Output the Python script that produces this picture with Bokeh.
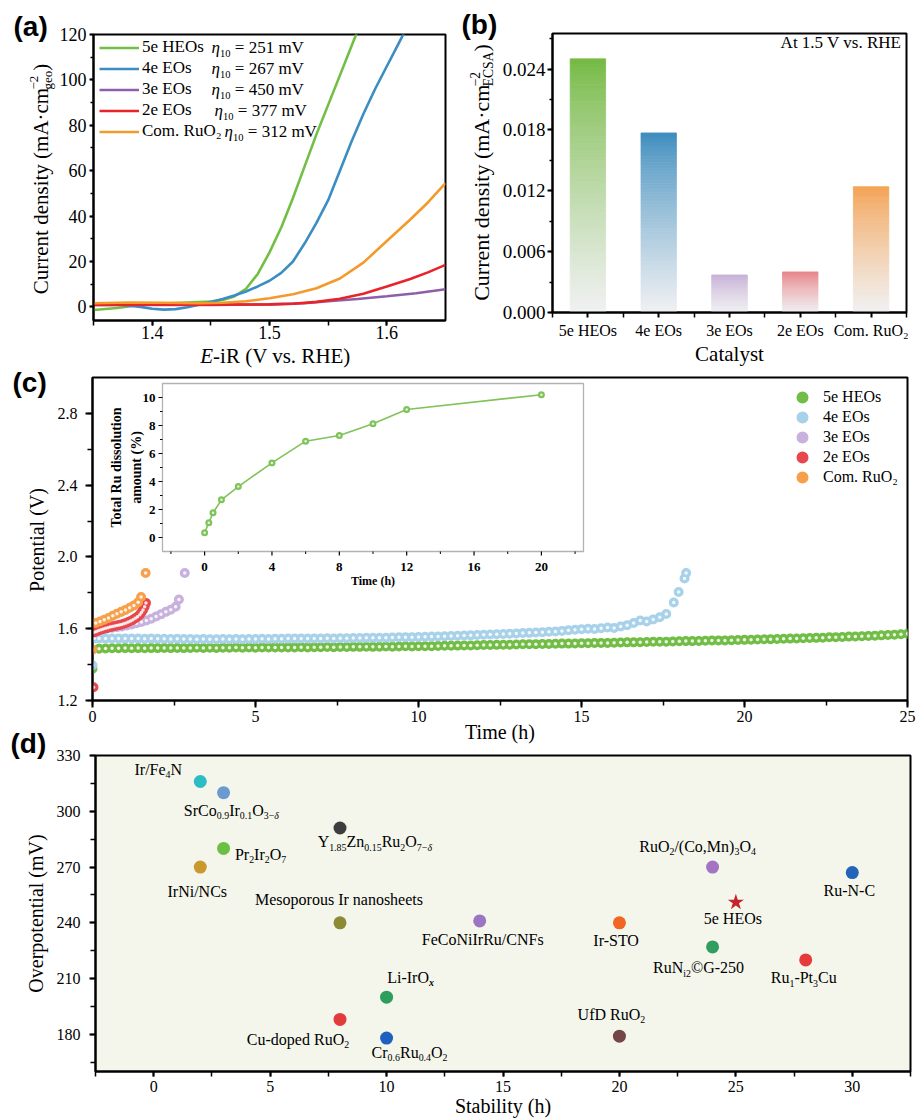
import math
from bokeh.plotting import figure
from bokeh.models import (Range1d, Label, LabelSet, Legend, LegendItem, BoxAnnotation,
                          SingleIntervalTicker, FixedTicker, ColumnDataSource, PrintfTickFormatter)
from bokeh.core.properties import value
from bokeh.layouts import column, row
from bokeh.embed import file_html
from bokeh.resources import INLINE

SERIF = "Liberation Serif"
AXF = "Times New Roman"   # axis texts (metric alias of Liberation Serif)
SANS = "Liberation Sans"

# ======================= DATA =======================
# (a) LSV curves: potential (V) and current density (mA cm-2)
lsv_names = ["5e HEOs", "4e EOs", "3e EOs", "2e EOs", "Com. RuO₂"]
lsv_eta10 = ["251", "267", "450", "377", "312"]
lsv_v_5e = [1.35, 1.37, 1.39, 1.41, 1.43, 1.45, 1.46, 1.47, 1.48, 1.49, 1.50, 1.51, 1.52, 1.53, 1.54, 1.55, 1.56, 1.57, 1.58]
lsv_j_5e = [-1.4, -0.5, 0.8, 1.5, 1.9, 2.3, 3.0, 4.6, 8.0, 14.5, 24.0, 35.0, 48.0, 62.0, 76.0, 89.0, 102.0, 115.0, 128.0]
lsv_v_4e = [1.35, 1.37, 1.39, 1.40, 1.41, 1.42, 1.43, 1.44, 1.45, 1.46, 1.47, 1.48, 1.49, 1.50, 1.51, 1.52, 1.53, 1.54, 1.55, 1.56, 1.57, 1.58, 1.59, 1.60, 1.61, 1.62]
lsv_j_4e = [1.6, 1.2, 0.0, -0.8, -1.2, -1.0, -0.2, 1.0, 2.2, 3.5, 5.0, 6.8, 9.0, 11.5, 15.0, 20.0, 28.0, 37.0, 47.0, 60.0, 73.0, 85.0, 96.0, 106.0, 116.0, 126.0]
lsv_v_3e = [1.35, 1.40, 1.45, 1.50, 1.53, 1.55, 1.575, 1.60, 1.625, 1.65]
lsv_j_3e = [0.8, 0.9, 0.9, 1.1, 1.6, 2.5, 3.5, 4.7, 6.0, 7.8]
lsv_v_2e = [1.35, 1.40, 1.45, 1.50, 1.52, 1.54, 1.56, 1.58, 1.60, 1.62, 1.635, 1.65]
lsv_j_2e = [0.9, 1.0, 1.0, 1.1, 1.4, 2.2, 3.6, 5.8, 9.0, 12.3, 15.2, 18.5]
lsv_v_ru = [1.35, 1.38, 1.41, 1.44, 1.46, 1.48, 1.50, 1.52, 1.54, 1.56, 1.58, 1.60, 1.62, 1.635, 1.65]
lsv_j_ru = [1.6, 1.9, 1.8, 1.6, 1.8, 2.5, 3.8, 5.6, 8.2, 12.5, 19.5, 29.0, 38.5, 46.0, 54.5]

# (b) ECSA-normalised current density at 1.5 V
bar_cats = ["5e HEOs", "4e EOs", "3e EOs", "2e EOs", "Com. RuO₂"]
bar_vals = [0.0250, 0.0177, 0.0037, 0.0040, 0.0124]

# (c) chronopotentiometry: time (h) and potential (V)
c_t_5e = [0.0] + [round(0.2 * k, 1) for k in range(1, 126)]
c_v_5e = [1.377,
          1.489, 1.490, 1.491, 1.491, 1.492, 1.491, 1.492, 1.491, 1.492, 1.492,
          1.493, 1.492, 1.493, 1.492, 1.493, 1.494, 1.493, 1.494, 1.493, 1.494,
          1.494, 1.495, 1.494, 1.495, 1.494, 1.495, 1.495, 1.496, 1.495, 1.496,
          1.496, 1.497, 1.496, 1.497, 1.497, 1.498, 1.497, 1.498, 1.498, 1.499,
          1.499, 1.500, 1.499, 1.500, 1.501, 1.500, 1.501, 1.502, 1.501, 1.502,
          1.503, 1.503, 1.504, 1.505, 1.505, 1.506, 1.507, 1.507, 1.508, 1.509,
          1.509, 1.510, 1.511, 1.511, 1.512, 1.513, 1.513, 1.514, 1.515, 1.515,
          1.516, 1.517, 1.517, 1.518, 1.519, 1.519, 1.520, 1.521, 1.521, 1.522,
          1.523, 1.524, 1.524, 1.525, 1.526, 1.527, 1.527, 1.528, 1.529, 1.530,
          1.531, 1.531, 1.532, 1.533, 1.534, 1.535, 1.535, 1.536, 1.537, 1.538,
          1.539, 1.540, 1.541, 1.542, 1.543, 1.544, 1.545, 1.546, 1.547, 1.548,
          1.549, 1.550, 1.552, 1.553, 1.554, 1.556, 1.557, 1.558, 1.560, 1.561,
          1.563, 1.565, 1.567, 1.569, 1.572]
c_t_4e = [0.0, 0.05] + [round(0.2 * k, 1) for k in range(1, 89)] + [17.83, 17.98, 18.16, 18.21]
c_v_4e = [1.396, 1.545,
          1.546, 1.545, 1.546, 1.545, 1.545, 1.546, 1.545, 1.544, 1.545, 1.544,
          1.544, 1.543, 1.544, 1.543, 1.543, 1.542, 1.543, 1.542, 1.542, 1.543,
          1.542, 1.543, 1.542, 1.543, 1.543, 1.544, 1.543, 1.544, 1.544, 1.545,
          1.545, 1.546, 1.545, 1.546, 1.546, 1.547, 1.546, 1.547, 1.547, 1.548,
          1.548, 1.549, 1.549, 1.550, 1.550, 1.551, 1.552, 1.552, 1.553, 1.554,
          1.555, 1.556, 1.557, 1.558, 1.559, 1.561, 1.562, 1.563, 1.565, 1.566,
          1.568, 1.569, 1.571, 1.572, 1.574, 1.576, 1.577, 1.579, 1.581, 1.583,
          1.585, 1.588, 1.591, 1.594, 1.597, 1.600, 1.598, 1.603, 1.607, 1.604,
          1.612, 1.620, 1.632, 1.646, 1.640, 1.652, 1.664, 1.682,
          1.746, 1.805, 1.880, 1.911]
c_t_3e = [0.15, 0.3, 0.45, 0.6, 0.75, 0.9, 1.05, 1.2, 1.35, 1.5, 1.65, 1.8, 1.95, 2.1, 2.25, 2.4, 2.55, 2.65, 2.83]
c_v_3e = [1.592, 1.597, 1.601, 1.605, 1.609, 1.613, 1.618, 1.624, 1.630, 1.637, 1.646, 1.656, 1.668, 1.680, 1.694, 1.706, 1.722, 1.763, 1.911]
c_t_2e = [0.03, 0.05, 0.12, 0.19, 0.26, 0.33, 0.4, 0.47, 0.54, 0.61, 0.68, 0.75, 0.82, 0.89, 0.96, 1.03, 1.1, 1.17, 1.24, 1.31, 1.38, 1.45, 1.5, 1.55, 1.6, 1.64]
c_v_2e = [1.274, 1.580, 1.585, 1.590, 1.594, 1.598, 1.602, 1.606, 1.609, 1.612, 1.615, 1.618, 1.621, 1.624, 1.628, 1.632, 1.637, 1.643, 1.650, 1.658, 1.667, 1.678, 1.690, 1.705, 1.722, 1.744]
c_t_ru = [0.0, 0.1, 0.23, 0.36, 0.49, 0.62, 0.75, 0.88, 1.01, 1.14, 1.27, 1.4, 1.49, 1.63]
c_v_ru = [1.483, 1.632, 1.640, 1.650, 1.660, 1.672, 1.683, 1.694, 1.705, 1.717, 1.730, 1.748, 1.777, 1.911]
c_names = ["5e HEOs", "4e EOs", "3e EOs", "2e EOs", "Com. RuO₂"]

# (c) inset: total Ru dissolution (%)
ins_t = [0, 0.25, 0.5, 1, 2, 4, 6, 8, 10, 12, 20]
ins_ru = [0.34, 1.05, 1.76, 2.69, 3.64, 5.33, 6.88, 7.29, 8.12, 9.14, 10.2]
ins_xticks = [0, 4, 8, 12, 16, 20]
ins_yticks = [0, 2, 4, 6, 8, 10]

# (d) overpotential vs stability comparison
d_names = ["Ir/Fe4N", "SrCo0.9Ir0.1O3−δ", "Y1.85Zn0.15Ru2O7−δ", "Pr2Ir2O7", "IrNi/NCs",
           "Mesoporous Ir nanosheets", "Li-IrOx", "Cu-doped RuO2", "Cr0.6Ru0.4O2",
           "FeCoNiIrRu/CNFs", "Ir-STO", "UfD RuO2", "RuO2/(Co,Mn)3O4", "RuNi2©G-250",
           "5e HEOs", "Ru1-Pt3Cu", "Ru-N-C"]
d_stab = [2, 3, 8, 3, 2, 8, 10, 8, 10, 14, 20, 20, 24, 24, 25, 28, 30]
d_eta = [316, 310, 291, 280, 270, 240, 200, 188, 178, 241, 240, 179, 270, 227, 251, 220, 267]

# ======================= STYLE =======================
lsv_colors = {"5e": "#72bf44", "4e": "#3b8dc2", "3e": "#8e5fa8", "2e": "#e8232a", "ru": "#f39a2b"}
bar_top_colors = ["#73b941", "#3c8cbe", "#c7b0d6", "#e8848a", "#f4a253"]
c_colors = ["#72bd45", "#a8d1ea", "#c8b1dc", "#e8474d", "#f6a04b"]
d_colors = ["#2bbcc4", "#6b9ad0", "#3d3d3d", "#6cbf45", "#c9992e", "#8c8a32", "#2e9e5e", "#e23b3b",
            "#1f5fbf", "#9b74c2", "#f26522", "#744646", "#a374c4", "#2f9e5f", "#c4242b", "#e63b3b", "#2264b8"]
d_markers = ["circle"] * 14 + ["star"] + ["circle"] * 2
d_sizes = [13] * 14 + [17] + [13] * 2
d_label_segs = [
    [("Ir/Fe", "n"), ("4", "sub"), ("N", "n")],
    [("SrCo", "n"), ("0.9", "sub"), ("Ir", "n"), ("0.1", "sub"), ("O", "n"), ("3−", "sub"), ("δ", "isub")],
    [("Y", "n"), ("1.85", "sub"), ("Zn", "n"), ("0.15", "sub"), ("Ru", "n"), ("2", "sub"), ("O", "n"), ("7−", "sub"), ("δ", "isub")],
    [("Pr", "n"), ("2", "sub"), ("Ir", "n"), ("2", "sub"), ("O", "n"), ("7", "sub")],
    [("IrNi/NCs", "n")],
    [("Mesoporous Ir nanosheets", "n")],
    [("Li-IrO", "n"), ("x", "bisub")],
    [("Cu-doped RuO", "n"), ("2", "sub")],
    [("Cr", "n"), ("0.6", "sub"), ("Ru", "n"), ("0.4", "sub"), ("O", "n"), ("2", "sub")],
    [("FeCoNiIrRu/CNFs", "n")],
    [("Ir-STO", "n")],
    [("UfD RuO", "n"), ("2", "sub")],
    [("RuO", "n"), ("2", "sub"), ("/(Co,Mn)", "n"), ("3", "sub"), ("O", "n"), ("4", "sub")],
    [("RuN", "n"), ("i2", "sub"), ("©G-250", "n")],
    [("5e HEOs", "n")],
    [("Ru", "n"), ("1", "sub"), ("-Pt", "n"), ("3", "sub"), ("Cu", "n")],
    [("Ru-N-C", "n")],
]
# label centre offsets from the marker, in pixels (right, up)
d_label_off = [(-42, 12), (8, -18), (35, -14), (37, -6), (-3, -24), (-1, 23), (24, 20), (-42, -20),
               (23, -14), (3, -19), (-3, -18), (-8, 22), (-15, 21), (-14, -21), (-3, -16), (-2, -18), (-3, -18)]

# ======================= HELPERS =======================
TW = {' ': 250, '!': 333, '(': 333, ')': 333, ',': 250, '-': 333, '.': 250, '/': 278, '=': 564, '%': 833,
      '·': 250, '−': 564, '©': 760, 'δ': 500, 'η': 500,
      'A': 722, 'B': 667, 'C': 667, 'D': 722, 'E': 611, 'F': 556, 'G': 722, 'H': 722, 'I': 333, 'J': 389,
      'K': 722, 'L': 611, 'M': 889, 'N': 722, 'O': 722, 'P': 556, 'Q': 722, 'R': 667, 'S': 556, 'T': 611,
      'U': 722, 'V': 722, 'W': 944, 'X': 722, 'Y': 722, 'Z': 611,
      'a': 444, 'b': 500, 'c': 444, 'd': 500, 'e': 444, 'f': 333, 'g': 500, 'h': 500, 'i': 278, 'j': 278,
      'k': 500, 'l': 278, 'm': 778, 'n': 500, 'o': 500, 'p': 500, 'q': 500, 'r': 333, 's': 389, 't': 278,
      'u': 500, 'v': 500, 'w': 722, 'x': 500, 'y': 500, 'z': 444}
SMALL = ("sub", "sup", "sup0", "isub", "bisub")
MID = 0.3375  # em-box middle above the baseline


def tw(text, fs):
    return sum(TW.get(ch, 500) for ch in text) * fs / 1000.0


def rich(p, segs, x, y, size, units="screen", align="left", angle=0.0, dx=0.0, dy=0.0,
         color="black", font=SERIF):
    """Text with sub/superscripts built from several Labels; (x, y)+(dx, dy) is the middle of the main text."""
    fsm = size * 0.62
    items = []
    total = 0.0
    for text, kind in segs:
        fs = fsm if kind in SMALL else size
        adv = 0.0 if kind == "sup0" else tw(text, fs)
        items.append((text, kind, fs, adv))
        total += adv
    pos = {"left": 0.0, "center": -total / 2.0, "right": -total}[align]
    ca, sa = math.cos(angle), math.sin(angle)
    for text, kind, fs, adv in items:
        if kind in ("sub", "isub", "bisub"):
            sh = -0.2 * size
        elif kind in ("sup", "sup0"):
            sh = 0.42 * size
        else:
            sh = 0.0
        sh += MID * (fs - size)
        style = "normal"
        if kind in ("i", "isub"):
            style = "italic"
        elif kind == "bisub":
            style = "bold italic"
        lead = len(text) - len(text.lstrip(" "))
        p0 = pos + lead * 250 * fs / 1000.0
        ox = p0 * ca - sh * sa
        oy = p0 * sa + sh * ca
        p.add_layout(Label(x=x, y=y, x_units=units, y_units=units, x_offset=dx + ox, y_offset=dy + oy,
                           text=text.strip(" "), angle=angle, text_font=font, text_font_size=f"{fs:.1f}px",
                           text_font_style=style, text_color=color, text_align="left",
                           text_baseline="middle"))
        pos += adv


def strip(w, h):
    """A blank figure used as a canvas for texts lying outside the plot frames (data units = pixels)."""
    p = figure(width=w, height=h, x_range=Range1d(0, w), y_range=Range1d(h, 0), x_axis_type=None,
               y_axis_type=None, output_backend="svg", toolbar_location=None, min_border_left=0,
               min_border_right=0, min_border_top=0, min_border_bottom=0, border_fill_color="white",
               background_fill_color="white")
    p.outline_line_color = None
    for g in p.grid:
        g.visible = False
    return p


def letter(p, txt, x, y):
    p.add_layout(Label(x=x, y=y, text=txt, text_font=SANS, text_font_style="bold", text_font_size="28px",
                       text_color="black", text_align="left", text_baseline="middle"))


def make_fig(w, h, xr, yr, bl, br, bt, bb, bg="white"):
    p = figure(width=w, height=h, x_range=xr, y_range=yr, output_backend="svg", toolbar_location=None,
               min_border_left=bl, min_border_right=br, min_border_top=bt, min_border_bottom=bb,
               background_fill_color=bg, border_fill_color="white")
    p.xgrid.visible = False
    p.ygrid.visible = False
    p.outline_line_color = "black"
    p.outline_line_width = 2
    p.outline_line_alpha = 1.0
    return p


def style_axis(ax, ticker, fsize, tick_out, standoff, minor_out=3, title=None, title_size=20, title_standoff=0):
    ax.ticker = ticker
    ax.axis_line_color = "black"
    ax.axis_line_width = 2
    ax.major_tick_line_color = "black"
    ax.major_tick_line_width = 2
    ax.major_tick_in = 0
    ax.major_tick_out = tick_out
    ax.minor_tick_line_color = "black"
    ax.minor_tick_line_width = 1.5
    ax.minor_tick_in = 0
    ax.minor_tick_out = minor_out
    ax.major_label_text_font = AXF
    ax.major_label_text_font_style = "normal"
    ax.major_label_text_font_size = f"{fsize}px"
    ax.major_label_text_color = "black"
    ax.major_label_standoff = standoff
    if title is not None:
        ax.axis_label = title
        ax.axis_label_text_font = AXF
        ax.axis_label_text_font_style = "normal"
        ax.axis_label_text_font_size = f"{title_size}px"
        ax.axis_label_text_color = "black"
        ax.axis_label_standoff = title_standoff


def hex2rgb(h):
    return tuple(int(h[i:i + 2], 16) for i in (1, 3, 5))


def rgb2hex(c):
    return "#%02x%02x%02x" % tuple(int(round(v)) for v in c)


def solo(fig):
    """Wrap a figure on its own so that sibling plots do not get their frames aligned."""
    return column(fig, spacing=0)


# ======================= (a) =======================
A_left = strip(56, 368)
letter(A_left, "(a)", 13, 25.7)
rich(A_left, [("Current density (mA·cm", "n"), ("−2", "sup0"), ("geo", "sub"), (")", "n")], 40, 178.5, 21,
     units="data", align="center", angle=math.pi / 2)

pa = make_fig(394, 345, Range1d(1.35, 1.65), Range1d(-6, 120), 35, 5, 34, 25)
style_axis(pa.xaxis[0], SingleIntervalTicker(interval=0.1, num_minor_ticks=2), 18, 5, 0, minor_out=5)
style_axis(pa.yaxis[0], SingleIntervalTicker(interval=20, num_minor_ticks=2), 18, 4, 3)
rA = {}
for key, xs, ys in [("5e", lsv_v_5e, lsv_j_5e), ("4e", lsv_v_4e, lsv_j_4e), ("3e", lsv_v_3e, lsv_j_3e),
                    ("2e", lsv_v_2e, lsv_j_2e), ("ru", lsv_v_ru, lsv_j_ru)]:
    rA[key] = pa.line(xs, ys, line_color=lsv_colors[key], line_width=2.6)
legA = Legend(items=[LegendItem(label=n, renderers=[rA[k]]) for n, k in zip(lsv_names, ["5e", "4e", "3e", "2e", "ru"])],
              location=(6, 178.5), orientation="vertical", glyph_width=40, glyph_height=21, label_height=21,
              label_standoff=3, spacing=0, padding=0, margin=0, border_line_alpha=0, background_fill_alpha=0,
              label_text_font=SERIF, label_text_font_size="17px", label_text_color="black")
pa.add_layout(legA)
eta_x = [118, 118, 118, 121, 131]
for i, e in enumerate(lsv_eta10):
    c_ref = 47 + 21 * i
    rich(pa, [("η", "i"), ("10", "sub"), (" = " + e + " mV", "n")], eta_x[i], 320 - c_ref, 17)

A_bot = strip(394, 23)
rich(A_bot, [("E", "i"), ("-iR (V vs. RHE)", "n")], 219, 10.5, 21, units="data", align="center")

# ======================= (b) =======================
B_left = strip(49, 368)
letter(B_left, "(b)", 11, 23.7)
rich(B_left, [("Current density (mA·cm", "n"), ("−2", "sup0"), ("ECSA", "sub"), (")", "n")], 30.6, 172, 22,
     units="data", align="center", angle=math.pi / 2)

pb = make_fig(420, 368, Range1d(0, 5), Range1d(0, 0.0275), 50, 13, 33, 50)
style_axis(pb.xaxis[0], FixedTicker(ticks=[i + 0.5 for i in range(len(bar_cats))],
                                    minor_ticks=list(range(len(bar_cats) + 1))), 16, 5, 4, minor_out=5,
           title="Catalyst", title_size=21, title_standoff=0)
pb.xaxis[0].major_label_overrides = {i + 0.5: c for i, c in enumerate(bar_cats)}
style_axis(pb.yaxis[0], SingleIntervalTicker(interval=0.006, num_minor_ticks=2), 19, 5, 2)
pb.yaxis[0].formatter = PrintfTickFormatter(format="%.3f")
NS = 60
bot_rgb = (241, 241, 243)
gx, gb, gt, gc = [], [], [], []
for i, (v, col) in enumerate(zip(bar_vals, bar_top_colors)):
    top_rgb = hex2rgb(col)
    for k in range(NS):
        frac_top = 1.0 - (k + 0.5) / NS
        m = frac_top ** 0.8
        cc = tuple(top_rgb[j] + (bot_rgb[j] - top_rgb[j]) * m for j in range(3))
        gx.append(i + 0.5)
        gb.append(v * k / NS)
        gt.append(v * (k + 1) / NS)
        gc.append(rgb2hex(cc))
pb.vbar(x=gx, bottom=gb, top=gt, width=0.5, fill_color=gc, line_color=gc, line_width=0.8)
rich(pb, [("At 1.5 V vs. RHE", "n")], 349, 270, 17, align="right")

# ======================= (c) =======================
C_left = strip(50, 360)
letter(C_left, "(c)", 12, 14)
rich(C_left, [("Potential (V)", "n")], 36.8, 171.5, 20, units="data", align="center", angle=math.pi / 2)

CW, CH = 869, 378
CBL, CBR, CBT, CBB = 42, 12, 9, 46
pc = make_fig(CW, CH, Range1d(0, 25), Range1d(1.2, 3.0), CBL, CBR, CBT, CBB)
style_axis(pc.xaxis[0], SingleIntervalTicker(interval=5, num_minor_ticks=2), 16, 7, 3, minor_out=5,
           title="Time (h)", title_size=20, title_standoff=-4)
style_axis(pc.yaxis[0], SingleIntervalTicker(interval=0.4, num_minor_ticks=2), 16, 7, 8, minor_out=5)
pc.yaxis[0].formatter = PrintfTickFormatter(format="%.1f")
rC = []
for ts, vs, col in [(c_t_5e, c_v_5e, c_colors[0]), (c_t_4e, c_v_4e, c_colors[1]), (c_t_3e, c_v_3e, c_colors[2]),
                    (c_t_2e, c_v_2e, c_colors[3]), (c_t_ru, c_v_ru, c_colors[4])]:
    r = pc.scatter(ts, vs, size=6, fill_color=col, line_color=col, line_width=4)
    pc.scatter(ts, vs, size=3.5, fill_color="white", fill_alpha=0.85, line_color=None)
    rC.append(r)
legC = Legend(items=[LegendItem(label=n, renderers=[r]) for n, r in zip(c_names, rC)],
              location=(700, 213), orientation="vertical", glyph_width=20, glyph_height=20, label_height=20,
              label_standoff=11, spacing=0, padding=0, margin=0, border_line_alpha=0, background_fill_alpha=0,
              label_text_font=SERIF, label_text_font_size="16px", label_text_color="black")
pc.add_layout(legC)

# inset (own ranges mapped into a sub-box of the frame)
FWC, FHC = CW - CBL - CBR, CH - CBT - CBB
IX0, IX1, IY0, IY1 = -2.5, 22.5, -1.0, 11.0
INS_L, INS_R, INS_B, INS_T = 70, 491, 149, 317
ux = (IX1 - IX0) / (INS_R - INS_L)
uy = (IY1 - IY0) / (INS_T - INS_B)
pc.extra_x_ranges = {"ix": Range1d(IX0 - INS_L * ux, IX1 + (FWC - INS_R) * ux)}
pc.extra_y_ranges = {"iy": Range1d(IY0 - INS_B * uy, IY1 + (FHC - INS_T) * uy)}
pc.add_layout(BoxAnnotation(left=IX0, right=IX1, bottom=IY0, top=IY1, x_range_name="ix", y_range_name="iy",
                            fill_color="white", fill_alpha=1.0, line_color="black", line_width=1.3,
                            level="underlay"))
pc.line(ins_t, ins_ru, x_range_name="ix", y_range_name="iy", line_color="#80c35a", line_width=1.6)
pc.scatter(ins_t, ins_ru, x_range_name="ix", y_range_name="iy", size=7, fill_color="#80c35a", line_color=None)
pc.scatter(ins_t, ins_ru, x_range_name="ix", y_range_name="iy", size=2.5, fill_color="white", fill_alpha=0.8,
           line_color=None)
ix_minor = [t + 2 for t in ins_xticks] + [ins_xticks[0] - 2]
iy_minor = [t + 1 for t in ins_yticks[:-1]]
pc.segment(x0=ins_xticks, x1=ins_xticks, y0=[IY0] * len(ins_xticks), y1=[IY0 - 4 * uy] * len(ins_xticks),
           x_range_name="ix", y_range_name="iy", line_color="black", line_width=1.2)
pc.segment(x0=ix_minor, x1=ix_minor, y0=[IY0] * len(ix_minor), y1=[IY0 - 2.5 * uy] * len(ix_minor),
           x_range_name="ix", y_range_name="iy", line_color="black", line_width=1.0)
pc.segment(x0=[IX0] * len(ins_yticks), x1=[IX0 - 4 * ux] * len(ins_yticks), y0=ins_yticks, y1=ins_yticks,
           x_range_name="ix", y_range_name="iy", line_color="black", line_width=1.2)
pc.segment(x0=[IX0] * len(iy_minor), x1=[IX0 - 2.5 * ux] * len(iy_minor), y0=iy_minor, y1=iy_minor,
           x_range_name="ix", y_range_name="iy", line_color="black", line_width=1.0)
src_ix = ColumnDataSource(dict(x=ins_xticks, y=[IY0] * len(ins_xticks), t=[str(v) for v in ins_xticks]))
src_iy = ColumnDataSource(dict(x=[IX0] * len(ins_yticks), y=ins_yticks, t=[str(v) for v in ins_yticks]))
pc.add_layout(LabelSet(x="x", y="y", text="t", source=src_ix, x_range_name="ix", y_range_name="iy",
                       y_offset=-15, text_align="center", text_baseline="middle", text_font=value(SERIF),
                       text_font_style="bold", text_font_size="13px", text_color="black"))
pc.add_layout(LabelSet(x="x", y="y", text="t", source=src_iy, x_range_name="ix", y_range_name="iy",
                       x_offset=-7, text_align="right", text_baseline="middle", text_font=value(SERIF),
                       text_font_style="bold", text_font_size="13px", text_color="black"))
pc.add_layout(Label(x=(IX0 + IX1) / 2, y=IY0, x_range_name="ix", y_range_name="iy", y_offset=-29,
                    text="Time (h)", text_font=SERIF, text_font_style="bold", text_font_size="12px",
                    text_align="center", text_baseline="middle", text_color="black"))
pc.add_layout(Label(x=IX0, y=(IY0 + IY1) / 2, x_range_name="ix", y_range_name="iy", x_offset=-46,
                    angle=math.pi / 2, text="Total Ru dissolution", text_font=SERIF, text_font_style="bold",
                    text_font_size="14px", text_align="center", text_baseline="middle", text_color="black"))
pc.add_layout(Label(x=IX0, y=(IY0 + IY1) / 2, x_range_name="ix", y_range_name="iy", x_offset=-26,
                    angle=math.pi / 2, text="amount (%)", text_font=SERIF, text_font_style="bold",
                    text_font_size="14px", text_align="center", text_baseline="middle", text_color="black"))

CD_mid = strip(50, 34)
letter(CD_mid, "(d)", 10, 15)

# ======================= (d) =======================
D_left = strip(50, 358)
rich(D_left, [("Overpotential (mV)", "n")], 35.3, 151, 20, units="data", align="center", angle=math.pi / 2)

DW, DH = 869, 374
DBL, DBR, DBT, DBB = 45, 9, 9, 49
pdd = make_fig(DW, DH, Range1d(-2.5, 32.5), Range1d(160, 330), DBL, DBR, DBT, DBB, bg="#f4f6ec")
style_axis(pdd.xaxis[0], SingleIntervalTicker(interval=5, num_minor_ticks=2), 16, 5, 4, minor_out=5,
           title="Stability (h)", title_size=20, title_standoff=0)
style_axis(pdd.yaxis[0], SingleIntervalTicker(interval=30, num_minor_ticks=2), 16, 6, 9, minor_out=5)
src_d = ColumnDataSource(dict(x=d_stab, y=d_eta, c=d_colors, m=d_markers, s=d_sizes, name=d_names))
pdd.scatter(x="x", y="y", marker="m", size="s", fill_color="c", line_color=None, source=src_d)
for i in range(len(d_names)):
    dx, dy = d_label_off[i]
    rich(pdd, d_label_segs[i], d_stab[i], d_eta[i], 16, units="data", align="center", dx=dx, dy=dy)

band1 = row(solo(A_left), column(solo(pa), solo(A_bot), spacing=0), solo(B_left), solo(pb), spacing=0)
band2 = row(column(solo(C_left), solo(CD_mid), solo(D_left), spacing=0),
            column(solo(pc), solo(pdd), spacing=0), spacing=0)
layout = column(band1, band2, spacing=0)
open("out.html", "w").write(file_html(layout, INLINE))
